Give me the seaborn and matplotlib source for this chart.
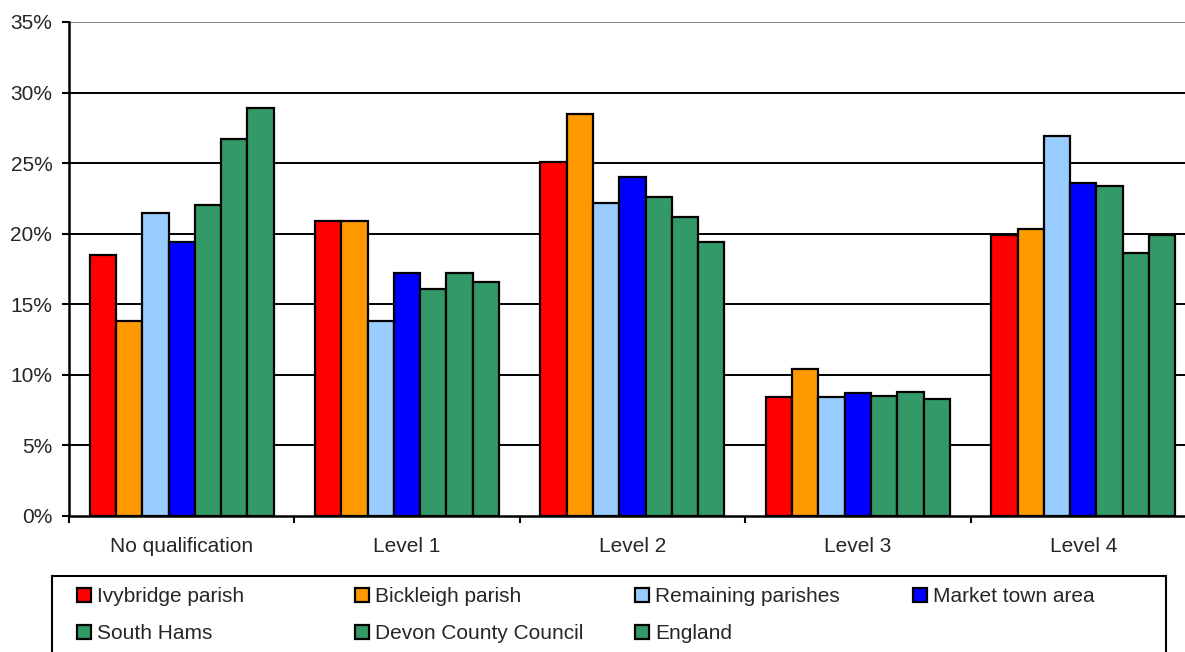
import pandas as pd
import matplotlib.pyplot as plt
import seaborn as sns
from matplotlib.patches import Rectangle
from matplotlib.ticker import FixedLocator, PercentFormatter

# data (percent of residents)
levels = ['No qualification', 'Level 1', 'Level 2', 'Level 3', 'Level 4']
areas = ['Ivybridge parish', 'Bickleigh parish', 'Remaining parishes', 'Market town area',
         'South Hams', 'Devon County Council', 'England']
ivybridge = [18.5, 20.9, 25.1, 8.4, 19.9]
bickleigh = [13.8, 20.9, 28.5, 10.4, 20.3]
remaining = [21.5, 13.8, 22.2, 8.4, 26.9]
market_town = [19.4, 17.2, 24.0, 8.7, 23.6]
south_hams = [22.0, 16.1, 22.6, 8.5, 23.4]
devon = [26.7, 17.2, 21.2, 8.8, 18.6]
england = [28.9, 16.6, 19.4, 8.3, 19.9]
colours = ['#FF0000', '#FF9900', '#99CCFF', '#0000FF', '#339966', '#339966', '#339966']

series = [ivybridge, bickleigh, remaining, market_town, south_hams, devon, england]
df = pd.DataFrame([(lvl, area, v) for area, vals in zip(areas, series)
                   for lvl, v in zip(levels, vals)], columns=['level', 'area', 'pct'])

sns.set_style('white')
plt.rcParams['font.family'] = ['Liberation Sans', 'DejaVu Sans']

W, H = 1185, 652
fig = plt.figure(figsize=(W / 100, H / 100), dpi=100)
ax = fig.add_axes([0.0582, 0.2086, 0.951, 0.7577])

# horizontal gridlines behind bars
for y in range(5, 35, 5):
    ax.axhline(y, color='black', lw=1.4, zorder=0)
ax.axhline(35, color='#808080', lw=1.4, zorder=0)

sns.barplot(data=df, x='level', y='pct', hue='area', hue_order=areas, order=levels,
            palette=dict(zip(areas, colours)), width=0.816, gap=0,
            edgecolor='black', linewidth=1.6, saturation=1, ax=ax, zorder=2)

ax.set_xlim(-0.5, 4.5)
ax.set_ylim(0, 35)
ax.set_yticks(range(0, 40, 5))
ax.yaxis.set_major_formatter(PercentFormatter(decimals=0))
ax.xaxis.set_minor_locator(FixedLocator([-0.5, 0.5, 1.5, 2.5, 3.5, 4.5]))
ax.tick_params(axis='x', which='major', length=0, pad=15, labelsize=15)
ax.tick_params(axis='x', which='minor', length=5, width=1.5, color='black', direction='out', bottom=True)
ax.tick_params(axis='y', length=5, width=1.5, color='black', direction='out', left=True, labelsize=15, pad=7)
ax.set_xlabel('')
ax.set_ylabel('')

for side in ['top', 'right']:
    ax.spines[side].set_visible(False)
for side in ['left', 'bottom']:
    ax.spines[side].set_color('black')
    ax.spines[side].set_linewidth(1.8)

handles, labels = ax.get_legend_handles_labels()
ax.get_legend().remove()

# legend box, reaching past the bottom edge as in the source
fig.patches.append(Rectangle((52 / W, -0.02), (1166 - 52) / W, (H - 576) / H + 0.02,
                             transform=fig.transFigure, fill=False, edgecolor='black',
                             lw=1.5, zorder=5))
# one legend per column so the columns sit on an even grid
col_x = [77, 355, 635, 913]
for c, x in enumerate(col_x):
    idx = [i for i in (c, c + 4) if i < len(areas)]
    fig.legend([handles[i] for i in idx], [labels[i] for i in idx],
               loc='upper left', bbox_to_anchor=(x / W, 1 - 587 / H), frameon=False,
               fontsize=15, handlelength=0.67, handleheight=0.67, handletextpad=0.3,
               borderaxespad=0, borderpad=0, labelspacing=0.88)

fig.savefig('out.png', dpi=100)
